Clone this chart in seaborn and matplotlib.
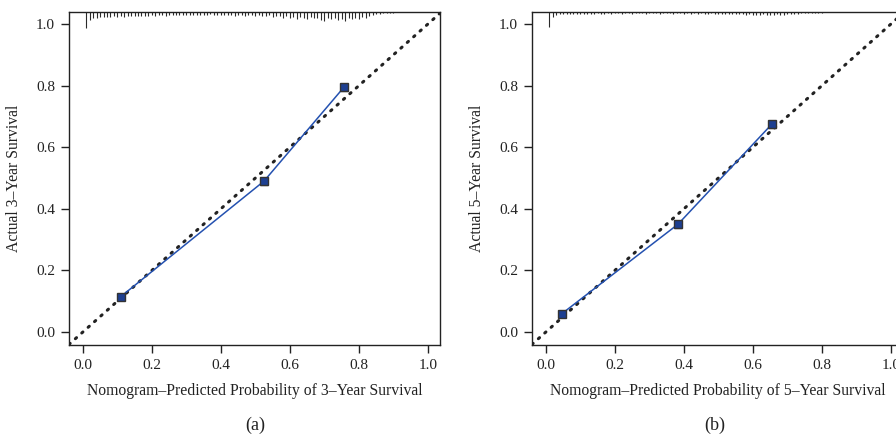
import numpy as np
import pandas as pd
import matplotlib
matplotlib.use("Agg")
import matplotlib.pyplot as plt
import seaborn as sns

# ---- data ----
pred3 = [0.11, 0.525, 0.756]
obs3 = [0.115, 0.490, 0.794]
err3 = [0.010, 0.011, 0.010]

pred5 = [0.047, 0.383, 0.655]
obs5 = [0.060, 0.350, 0.675]
err5 = [0.009, 0.011, 0.011]

rug3_x = [round(0.01 * i, 2) for i in range(1, 91)]
rug3_h = [0.052, 0.026, 0.020, 0.018, 0.016, 0.017, 0.015, 0.016, 0.014, 0.015,
          0.014, 0.015, 0.013, 0.014, 0.012, 0.013, 0.012, 0.014, 0.012, 0.011,
          0.012, 0.011, 0.010, 0.012, 0.011, 0.010, 0.011, 0.009, 0.010, 0.011,
          0.010, 0.009, 0.011, 0.010, 0.009, 0.010, 0.008, 0.009, 0.011, 0.010,
          0.009, 0.011, 0.010, 0.012, 0.009, 0.010, 0.013, 0.011, 0.010, 0.012,
          0.011, 0.014, 0.012, 0.010, 0.016, 0.012, 0.014, 0.018, 0.013, 0.020,
          0.015, 0.022, 0.017, 0.019, 0.024, 0.016, 0.021, 0.018, 0.025, 0.028,
          0.020, 0.024, 0.019, 0.026, 0.022, 0.028, 0.021, 0.024, 0.018, 0.022,
          0.016, 0.019, 0.013, 0.010, 0.006, 0.005, 0.004, 0.004, 0.003, 0.003]

rug5_x = [round(0.01 * i, 2) for i in range(1, 81)]
rug5_h = [0.050, 0.016, 0.010, 0.008, 0.007, 0.006, 0.006, 0.005, 0.006, 0.005,
          0.005, 0.006, 0.005, 0.005, 0.004, 0.005, 0.005, 0.004, 0.005, 0.004,
          0.004, 0.005, 0.004, 0.004, 0.005, 0.004, 0.004, 0.004, 0.005, 0.004,
          0.004, 0.004, 0.005, 0.004, 0.004, 0.004, 0.005, 0.004, 0.004, 0.005,
          0.004, 0.005, 0.004, 0.005, 0.004, 0.005, 0.006, 0.004, 0.005, 0.006,
          0.005, 0.006, 0.005, 0.007, 0.006, 0.008, 0.007, 0.009, 0.008, 0.010,
          0.009, 0.010, 0.008, 0.011, 0.009, 0.010, 0.008, 0.010, 0.009, 0.008,
          0.007, 0.006, 0.005, 0.004, 0.004, 0.003, 0.003, 0.003, 0.002, 0.002]

ticks = [0.0, 0.2, 0.4, 0.6, 0.8, 1.0]
tick_labels = ["0.0", "0.2", "0.4", "0.6", "0.8", "1.0"]

xlabels = ["Nomogram\u2013Predicted Probability of 3\u2013Year Survival",
           "Nomogram\u2013Predicted Probability of 5\u2013Year Survival"]
ylabels = ["Actual 3\u2013Year Survival", "Actual 5\u2013Year Survival"]
panel_labels = ["(a)", "(b)"]

# ---- style ----
sns.set_style("ticks")
plt.rcParams["font.family"] = ["Liberation Serif", "DejaVu Serif"]
plt.rcParams["axes.linewidth"] = 1.0

fig = plt.figure(figsize=(8.96, 4.41), dpi=100)
W, H = 896, 441
ax1 = fig.add_axes([69 / W, (H - 345) / H, (440 - 69) / W, (345 - 12) / H])
ax2 = fig.add_axes([532 / W, (H - 345) / H, (903 - 532) / W, (345 - 12) / H])

XL = (-0.04, 1.035)
YL = (-0.042, 1.039)
line_col = "#2451b0"
mk_col = "#1d3f91"

datasets = [(ax1, pred3, obs3, err3, rug3_x, rug3_h),
            (ax2, pred5, obs5, err5, rug5_x, rug5_h)]

for i, (ax, px, oy, er, rx, rh) in enumerate(datasets):
    df = pd.DataFrame({"pred": px, "obs": oy})
    # ideal line
    ax.plot([XL[0], YL[1]], [XL[0], YL[1]], linestyle=(0, (0.5, 2.3)),
            color="#222222", linewidth=2.2, dash_capstyle="round", zorder=2)
    sns.lineplot(data=df, x="pred", y="obs", ax=ax, color=line_col,
                 linewidth=1.1, zorder=3)
    ax.errorbar(px, oy, yerr=er, fmt="s", color="#333333", ecolor="#333333",
                markerfacecolor=mk_col, markeredgecolor="#333333",
                markersize=5.5, capsize=2.8, elinewidth=0.9, capthick=0.9,
                zorder=4)
    # rug of predicted probabilities hanging from top
    top = YL[1]
    ax.vlines(rx, [top - h for h in rh], top, color="#2a2a2a", linewidth=0.8,
              zorder=1)

    ax.set_xlim(*XL)
    ax.set_ylim(*YL)
    ax.set_xticks(ticks)
    ax.set_xticklabels(tick_labels)
    ax.set_yticks(ticks)
    ax.set_yticklabels(tick_labels)
    ax.tick_params(axis="both", direction="out", length=6, width=1.0,
                   labelsize=11, colors="#222222", pad=4)
    ax.set_xlabel(xlabels[i], fontsize=11.3, labelpad=8, color="#222222")
    ax.set_ylabel(ylabels[i], fontsize=11.3, labelpad=10, color="#222222")
    for s in ax.spines.values():
        s.set_visible(True)
        s.set_color("#222222")

fig.text(255 / W, 1 - 425 / H, panel_labels[0], ha="center", va="center",
         fontsize=13, color="#222222")
fig.text(715 / W, 1 - 425 / H, panel_labels[1], ha="center", va="center",
         fontsize=13, color="#222222")

fig.savefig("out.png", dpi=100)
